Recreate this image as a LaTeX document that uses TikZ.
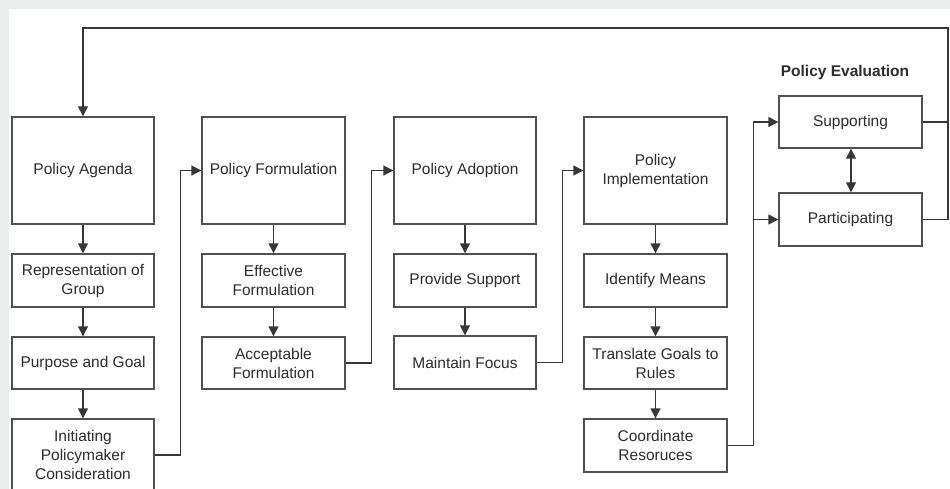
\documentclass[tikz,border=0pt]{standalone}
\usepackage{fontspec}
\setmainfont{Liberation Sans}
\usetikzlibrary{arrows.meta}
\definecolor{framegray}{RGB}{235,238,237}
\definecolor{linecol}{RGB}{55,55,55}
\definecolor{boxcol}{RGB}{80,80,80}
\definecolor{textcol}{RGB}{45,45,45}
\tikzset{
  box/.style={draw=boxcol, line width=1.4pt, fill=white, align=center, text=textcol,
    font=\fontsize{15.5}{19}\selectfont, inner sep=2pt},
  bigbox/.style={box, minimum width=142pt, minimum height=107pt},
  smallbox/.style={box, minimum width=142pt, minimum height=53pt},
  evalbox/.style={box, minimum width=143pt, minimum height=52pt},
  conn/.style={draw=linecol, line width=1.4pt},
  arr/.style={conn, -{Triangle[length=10pt,width=10pt]}},
  darr/.style={conn, {Triangle[length=10pt,width=10pt]}-{Triangle[length=10pt,width=10pt]}},
}
\begin{document}
\begin{tikzpicture}[x=1pt, y=-1pt]
\clip (0,0) rectangle (950,489);
\fill[framegray] (0,0) rectangle (950,489);
\fill[white] (9,9) rectangle (950,489);

% column 1
\node[bigbox] (agenda) at (83,170.5) {Policy Agenda};
\node[smallbox] (rep) at (83,280.5) {Representation of\\Group};
\node[smallbox, minimum height=52pt] (purpose) at (83,363) {Purpose and Goal};
\node[smallbox, minimum height=72pt] (init) at (83,455) {Initiating\\Policymaker\\Consideration};

% column 2
\node[bigbox, minimum width=143pt] (form) at (273.5,170.5) {Policy Formulation};
\node[smallbox, minimum width=143pt] (eff) at (273.5,280.5) {Effective\\Formulation};
\node[smallbox, minimum width=143pt, minimum height=52pt] (acc) at (273.5,363) {Acceptable\\Formulation};

% column 3
\node[bigbox] (adopt) at (465,170.5) {Policy Adoption};
\node[smallbox] (support) at (465,280.5) {Provide Support};
\node[smallbox] (focus) at (465,362.5) {Maintain Focus};

% column 4
\node[bigbox, minimum width=143pt] (impl) at (655.5,170.5) {Policy\\Implementation};
\node[smallbox, minimum width=143pt] (means) at (655.5,280.5) {Identify Means};
\node[smallbox, minimum width=143pt, minimum height=52pt] (rules) at (655.5,363) {Translate Goals to\\Rules};
\node[smallbox, minimum width=143pt] (coord) at (655.5,445.5) {Coordinate\\Resoruces};

% evaluation
\node[font=\bfseries\fontsize{15.5}{19}\selectfont, text=textcol] (evaltitle) at (845,72) {Policy Evaluation};
\node[evalbox] (sup) at (850.5,122) {Supporting};
\node[evalbox, minimum height=53pt] (part) at (850.5,219.5) {Participating};

\coordinate (fbR) at (948,28);

% vertical flow arrows
\draw[arr] (agenda) -- (rep);
\draw[arr] (rep) -- (purpose);
\draw[arr] (purpose) -- (init);
\draw[arr] (form) -- (eff);
\draw[arr] (eff) -- (acc);
\draw[arr] (adopt) -- (support);
\draw[arr] (support) -- (focus);
\draw[arr] (impl) -- (means);
\draw[arr] (means) -- (rules);
\draw[arr] (rules) -- (coord);

% stage to stage
\draw[arr] (init.east) -- ++(26,0) |- (form.west);
\draw[arr] (acc.east) -- ++(26,0) |- (adopt.west);
\draw[arr] (focus.east) -- ++(26,0) |- (impl.west);
\draw[arr] (coord.east) -- ++(26,0) |- (sup.west);
\draw[arr] (coord.east) -- ++(26,0) |- (part.west);

% evaluation
\draw[darr] (sup.south -| 851,0) -- (part.north -| 851,0);
\draw[conn] (part.east) -| (fbR);
\draw[arr] (sup.east) -| (fbR) -| (agenda.north);
\end{tikzpicture}
\end{document}
